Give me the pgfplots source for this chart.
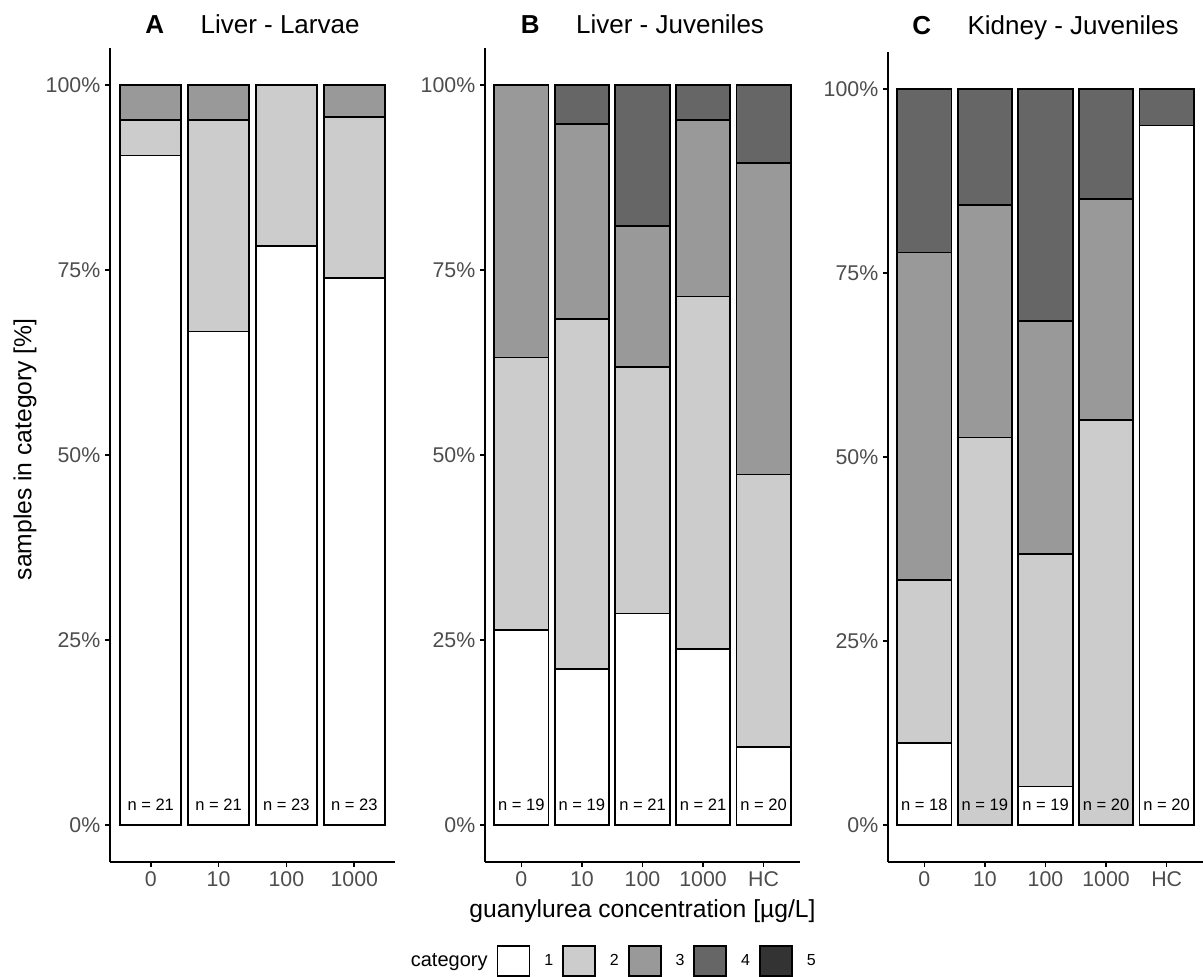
\documentclass[border=0pt]{standalone}
\usepackage{pgfplots}
\pgfplotsset{compat=1.18}
\usepackage{fontspec}
\setmainfont{Liberation Sans}
\definecolor{c1}{HTML}{FFFFFF}
\definecolor{c2}{HTML}{CCCCCC}
\definecolor{c3}{HTML}{999999}
\definecolor{c4}{HTML}{666666}
\definecolor{c5}{HTML}{333333}
\definecolor{tickgray}{HTML}{4D4D4D}
\tikzset{nlab/.style={anchor=base, font=\fontsize{12.4}{14}\selectfont, text=black}}
\pgfplotsset{
  panel/.style={
    scale only axis,
    anchor=south west,
    ybar stacked,
    bar width=0.9,
    ymin=-0.05, ymax=1.05,
    ytick={0,0.25,0.5,0.75,1},
    yticklabels={0\%,25\%,50\%,75\%,100\%},
    axis x line*=bottom, axis y line*=left,
    axis line style={line width=1.2pt, black},
    tick style={line width=1.2pt, black},
    tick align=outside,
    major tick length=3.75pt,
    ticklabel style={font=\fontsize{16}{19}\selectfont, text=tickgray},
    every axis plot/.append style={draw=black, line width=1.3pt},
    title style={at={(0.5,1)}, anchor=base, yshift=4.5pt, font=\fontsize{19.5}{23}\selectfont},
    clip=false,
  },
  limg/.style={legend image code/.code={\draw[fill=#1, draw=black, line width=1.3pt] (0pt,-11.25pt) rectangle (24pt,11.25pt);}},
}
\begin{document}
\begin{tikzpicture}
\path[use as bounding box] (0,0) rectangle (902.25pt,732.75pt);

% ---------------- Panel A ----------------
\begin{axis}[panel,
  at={(82.5pt,86.25pt)}, width=213.75pt, height=610.5pt,
  xmin=0.4, xmax=4.6,
  xtick={1,2,3,4}, xticklabels={0,10,100,1000},
  title={\textbf{A}\hspace{1.4em}Liver - Larvae},
  ylabel={samples in category [\%]},
  ylabel style={at={(axis description cs:-0.298,0.507)}, anchor=center, rotate=0, font=\fontsize{18.5}{22}\selectfont, text=black},
]
\addplot[fill=c1] coordinates {(1,0.9048) (2,0.6667) (3,0.7826) (4,0.7391)};
\addplot[fill=c2] coordinates {(1,0.0476) (2,0.2857) (3,0.2174) (4,0.2174)};
\addplot[fill=c3] coordinates {(1,0.0476) (2,0.0476) (3,0) (4,0.0435)};
\coordinate (a1) at (axis cs:1,0.02);
\coordinate (a2) at (axis cs:2,0.02);
\coordinate (a3) at (axis cs:3,0.02);
\coordinate (a4) at (axis cs:4,0.02);
\end{axis}
\node[nlab] at (a1) {n = 21};
\node[nlab] at (a2) {n = 21};
\node[nlab] at (a3) {n = 23};
\node[nlab] at (a4) {n = 23};

% ---------------- Panel B ----------------
\begin{axis}[panel,
  at={(363.75pt,86.25pt)}, width=236.25pt, height=610.5pt,
  xmin=0.4, xmax=5.6,
  xtick={1,2,3,4,5}, xticklabels={0,10,100,1000,HC},
  title={\textbf{B}\hspace{1.4em}Liver - Juveniles},
  xlabel={guanylurea concentration [µg/L]},
  xlabel style={at={(axis description cs:0.5,-0.0676)}, anchor=base, font=\fontsize{18.5}{22}\selectfont, text=black},
  legend columns=-1,
  legend style={at={(axis description cs:0.385,-0.1216)}, anchor=center, draw=none, fill=none,
    inner sep=0pt, outer sep=0pt, font=\fontsize{12}{14}\selectfont,
    nodes={inner xsep=0pt},
    cells={anchor=west},
    /tikz/every odd column/.style={column sep=10.5pt},
    /tikz/every even column/.style={column sep=6.75pt}},
]
\addplot[fill=c1, forget plot] coordinates {(1,0.2632) (2,0.2105) (3,0.2857) (4,0.2381) (5,0.1053)};
\addplot[fill=c2, forget plot] coordinates {(1,0.3684) (2,0.4737) (3,0.3333) (4,0.4762) (5,0.3684)};
\addplot[fill=c3, forget plot] coordinates {(1,0.3684) (2,0.2632) (3,0.1905) (4,0.2381) (5,0.4211)};
\addplot[fill=c4, forget plot] coordinates {(1,0) (2,0.0526) (3,0.1905) (4,0.0476) (5,0.1053)};
\addlegendimage{empty legend}\addlegendentry{\fontsize{15}{18}\selectfont category\hspace{3pt}}
\addlegendimage{limg=c1}\addlegendentry{1}
\addlegendimage{limg=c2}\addlegendentry{2}
\addlegendimage{limg=c3}\addlegendentry{3}
\addlegendimage{limg=c4}\addlegendentry{4}
\addlegendimage{limg=c5}\addlegendentry{5}
\coordinate (b1) at (axis cs:1,0.02);
\coordinate (b2) at (axis cs:2,0.02);
\coordinate (b3) at (axis cs:3,0.02);
\coordinate (b4) at (axis cs:4,0.02);
\coordinate (b5) at (axis cs:5,0.02);
\end{axis}
\node[nlab] at (b1) {n = 19};
\node[nlab] at (b2) {n = 19};
\node[nlab] at (b3) {n = 21};
\node[nlab] at (b4) {n = 21};
\node[nlab] at (b5) {n = 20};

% ---------------- Panel C ----------------
\begin{axis}[panel,
  at={(666pt,86.25pt)}, width=236.25pt, height=607.5pt,
  xmin=0.4, xmax=5.6,
  xtick={1,2,3,4,5}, xticklabels={0,10,100,1000,HC},
  title={\textbf{C}\hspace{1.4em}Kidney - Juveniles},
  title style={yshift=2.25pt},
]
\addplot[fill=c1] coordinates {(1,0.1111) (2,0) (3,0.0526) (4,0) (5,0.95)};
\addplot[fill=c2] coordinates {(1,0.2222) (2,0.5263) (3,0.3158) (4,0.55) (5,0)};
\addplot[fill=c3] coordinates {(1,0.4444) (2,0.3158) (3,0.3158) (4,0.3) (5,0)};
\addplot[fill=c4] coordinates {(1,0.2222) (2,0.1579) (3,0.3158) (4,0.15) (5,0.05)};
\coordinate (c1) at (axis cs:1,0.02);
\coordinate (c2) at (axis cs:2,0.02);
\coordinate (c3) at (axis cs:3,0.02);
\coordinate (c4) at (axis cs:4,0.02);
\coordinate (c5) at (axis cs:5,0.02);
\end{axis}
\node[nlab] at (c1) {n = 18};
\node[nlab] at (c2) {n = 19};
\node[nlab] at (c3) {n = 19};
\node[nlab] at (c4) {n = 20};
\node[nlab] at (c5) {n = 20};
\end{tikzpicture}
\end{document}
